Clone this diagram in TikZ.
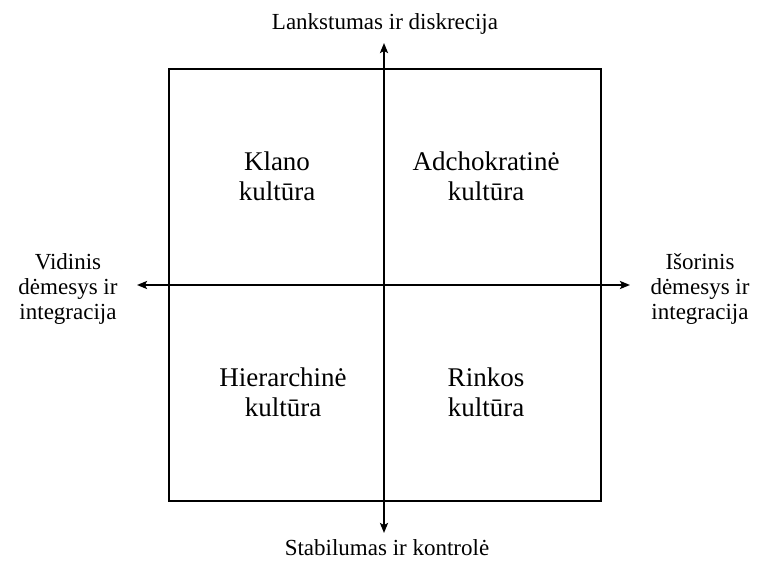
\documentclass[tikz,border=0pt]{standalone}
\usepackage{fontspec}
\setmainfont{Liberation Serif}
\usetikzlibrary{arrows.meta}
\begin{document}
\begin{tikzpicture}[x=1pt,y=-1pt,
  frame/.style={draw=black,line width=2pt},
  axis/.style={line width=2pt,{Stealth[length=10pt,width=8pt,inset=2pt]}-{Stealth[length=10pt,width=8pt,inset=2pt]}},
  quadlabel/.style={align=center,font=\fontsize{27}{30}\selectfont,inner sep=0pt},
  axislabel/.style={align=center,font=\fontsize{23}{25}\selectfont,inner sep=0pt}]
  \useasboundingbox (0,0) rectangle (758,561);
  % outer square
  \coordinate (tl) at (169,69);
  \coordinate (br) at (601,501);
  \draw[frame] (tl) rectangle (br);
  % axis end points
  \coordinate (up) at (384,43);
  \coordinate (down) at (384,533);
  \coordinate (left) at (137,285);
  \coordinate (right) at (630,285);
  \draw[axis] (down) -- (up);
  \draw[axis] (left) -- (right);
  % axis captions
  \node[axislabel,anchor=base] (top) at (385,30) {Lankstumas ir diskrecija};
  \node[axislabel,anchor=base] (bottom) at (387,555) {Stabilumas ir kontrolė};
  \node[axislabel] (west) at (68,289) {Vidinis\\dėmesys ir\\integracija};
  \node[axislabel] (east) at (700,289) {Išorinis\\dėmesys ir\\integracija};
  % quadrant names
  \node[quadlabel] (clan) at (277,176) {Klano\\kultūra};
  \node[quadlabel] (adhoc) at (486,176) {Adchokratinė\\kultūra};
  \node[quadlabel] (hier) at (283,392) {Hierarchinė\\kultūra};
  \node[quadlabel] (market) at (486,392) {Rinkos\\kultūra};
\end{tikzpicture}
\end{document}
